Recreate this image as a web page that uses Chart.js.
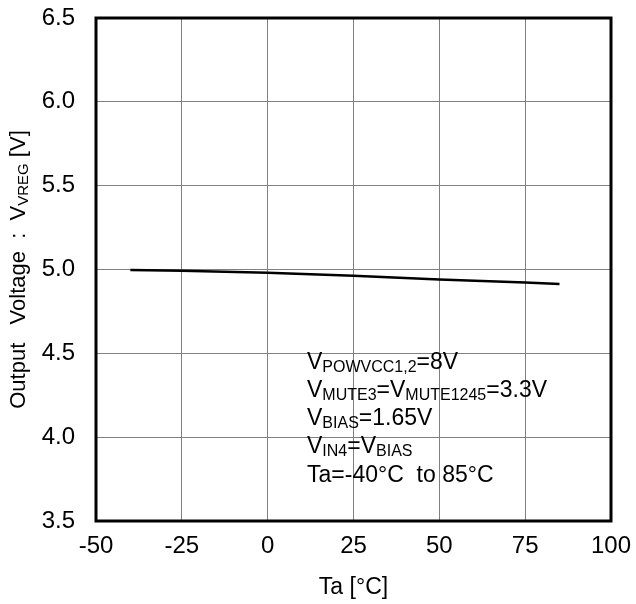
<!DOCTYPE html>
<html>
<head>
<meta charset="utf-8">
<script src="https://cdn.jsdelivr.net/npm/chart.js@4"></script>
<style>
html,body{margin:0;padding:0;background:#fff;}
#wrap{width:636px;height:604px;position:relative;}
</style>
</head>
<body>
<div id="wrap"><canvas id="c" width="636" height="604"></canvas></div>
<script>
// Data
const tempC = [-40, -25, 0, 25, 50, 75, 85];
const vreg = [4.997, 4.993, 4.980, 4.962, 4.940, 4.922, 4.913];
const xTicks = [-50, -25, 0, 25, 50, 75, 100];
const yTicks = [3.5, 4.0, 4.5, 5.0, 5.5, 6.0, 6.5];
const xTitle = 'Ta [°C]';
const yTitleParts = [['Output   Voltage  :  V', false], ['VREG', true], [' [V]', false]];
const noteLines = [
  [['V', false], ['POWVCC1,2', true], ['=8V', false]],
  [['V', false], ['MUTE3', true], ['=V', false], ['MUTE1245', true], ['=3.3V', false]],
  [['V', false], ['BIAS', true], ['=1.65V', false]],
  [['V', false], ['IN4', true], ['=V', false], ['BIAS', true]],
  [['Ta=-40°C  to 85°C', false]]
];

const FONT = '"Liberation Sans", Arial, sans-serif';
const mainFont = '23px ' + FONT;
const subFont = '16px ' + FONT;
const yMainFont = '22px ' + FONT;
const ySubFont = '15px ' + FONT;

function drawRich(ctx, parts, x, y, mf, sf) {
  let cx = x;
  for (const [t, sub] of parts) {
    ctx.font = sub ? sf : mf;
    ctx.fillText(t, cx, sub ? y + 3 : y);
    cx += ctx.measureText(t).width;
  }
  return cx - x;
}
function richWidth(ctx, parts, mf, sf) {
  let w = 0;
  for (const [t, sub] of parts) {
    ctx.font = sub ? sf : mf;
    w += ctx.measureText(t).width;
  }
  return w;
}

const decor = {
  id: 'decor',
  afterDraw(chart) {
    const ctx = chart.ctx;
    const a = chart.chartArea;
    ctx.save();
    ctx.strokeStyle = '#000';
    ctx.lineWidth = 3;
    ctx.strokeRect(a.left, a.top, a.right - a.left, a.bottom - a.top);
    ctx.fillStyle = '#000';
    ctx.textBaseline = 'alphabetic';
    ctx.textAlign = 'left';
    // annotation
    const baselines = [369, 397, 425, 453, 482];
    noteLines.forEach((ln, i) => drawRich(ctx, ln, 307, baselines[i], mainFont, subFont));
    // y title
    const w = richWidth(ctx, yTitleParts, yMainFont, ySubFont);
    ctx.translate(25, (a.top + a.bottom) / 2);
    ctx.rotate(-Math.PI / 2);
    drawRich(ctx, yTitleParts, -w / 2, 0, yMainFont, ySubFont);
    ctx.restore();
  }
};

new Chart(document.getElementById('c'), {
  type: 'scatter',
  data: {
    datasets: [{
      data: tempC.map((t, i) => ({x: t, y: vreg[i]})),
      showLine: true,
      borderColor: '#000',
      borderWidth: 2.5,
      pointRadius: 0,
      fill: false,
      tension: 0
    }]
  },
  options: {
    responsive: false,
    animation: false,
    devicePixelRatio: 1,
    layout: {padding: {left: 0, right: 25, top: 18, bottom: 0}},
    plugins: {legend: {display: false}, tooltip: {enabled: false}},
    scales: {
      x: {
        type: 'linear', min: -50, max: 100,
        afterBuildTicks(s) { s.ticks = xTicks.map(v => ({value: v})); },
        afterFit(s) { s.height = 83; s.paddingLeft = 0; s.paddingRight = 0; },
        ticks: {color: '#000', font: {family: FONT, size: 24}, padding: 11, maxRotation: 0},
        grid: {color: '#808080', lineWidth: 1, drawTicks: false},
        border: {display: false},
        title: {display: true, text: xTitle, color: '#000', font: {family: FONT, size: 23}, padding: {top: 0, bottom: 3}}
      },
      y: {
        type: 'linear', min: 3.5, max: 6.5,
        afterBuildTicks(s) { s.ticks = yTicks.map(v => ({value: v})); },
        afterFit(s) { s.width = 96; s.paddingTop = 0; s.paddingBottom = 0; },
        ticks: {color: '#000', font: {family: FONT, size: 24}, padding: 21, callback: v => v.toFixed(1)},
        grid: {color: '#808080', lineWidth: 1, drawTicks: false},
        border: {display: false}
      }
    }
  },
  plugins: [decor]
});
</script>
</body>
</html>
